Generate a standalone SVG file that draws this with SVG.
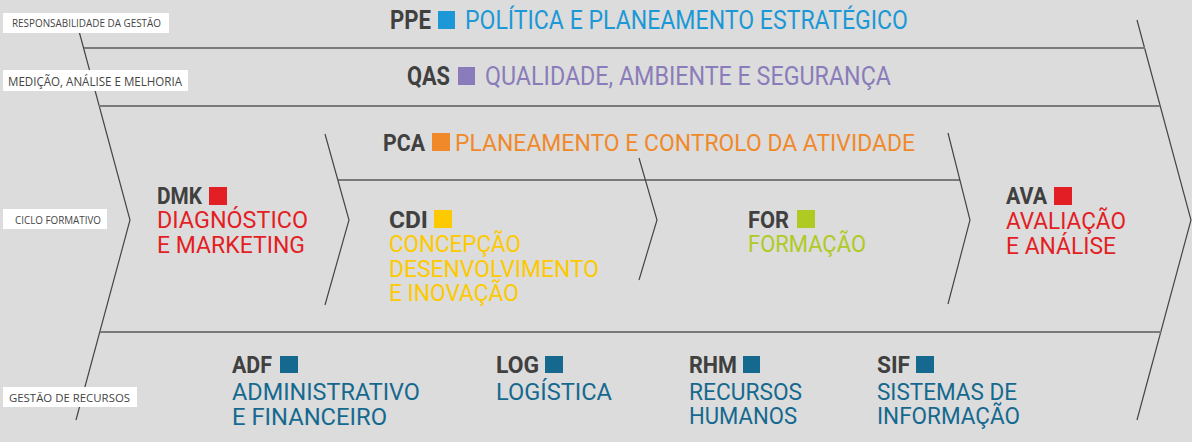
<svg xmlns="http://www.w3.org/2000/svg" width="1192" height="442" viewBox="0 0 1192 442">
<style>
.bg{fill:#dcdcdc}
.hl{stroke:#7a7a7a;stroke-width:2;fill:none}
.cv{stroke:#454545;stroke-width:1.2;fill:none}
.lb{fill:#ffffff}
.lt{font-family:'Open Sans','Liberation Sans',sans-serif;fill:#454545}
.t{font-family:Roboto,'DejaVu Sans',sans-serif}
.ab{font-weight:bold;fill:#404040}
.big{font-size:26px}
.mid{font-size:24.5px}
.sm{font-size:23.5px}
.c-ppe{fill:#1b98d5}
.c-qas{fill:#8a7cba}
.c-pca{fill:#f0892a}
.c-red{fill:#e31e24}
.c-cdi{fill:#fdc900}
.c-for{fill:#afca22}
.c-blue{fill:#15698f}
</style>
<rect class="bg" x="0" y="0" width="1192" height="442"/>
<g id="connectors">
<polyline class="cv" points="76,20 130,220 76,420"/>
<polyline class="cv" points="1137,20 1191,220 1137,420"/>
<line class="hl" x1="84" y1="48" x2="1145" y2="48"/>
<line class="hl" x1="99" y1="106" x2="1160" y2="106"/>
<line class="hl" x1="100" y1="332" x2="1161" y2="332"/>
<line class="hl" x1="338" y1="180" x2="960" y2="180"/>
<polyline class="cv" points="325,134 349,220 325,305"/>
<polyline class="cv" points="639,158 657,220 639,280"/>
<polyline class="cv" points="948,133 970,220 948,304"/>
</g>
<g id="label-responsabilidade">
<rect class="lb" x="3" y="13" width="166" height="20"/>
<text class="lt" x="12" y="27" font-size="10.5" textLength="149" lengthAdjust="spacingAndGlyphs">RESPONSABILIDADE DA GESTÃO</text>
</g>
<g id="label-medicao">
<rect class="lb" x="3" y="70" width="185" height="21"/>
<text class="lt" x="8" y="86" font-size="12" textLength="174" lengthAdjust="spacingAndGlyphs">MEDIÇÃO, ANÁLISE E MELHORIA</text>
</g>
<g id="label-ciclo">
<rect class="lb" x="3" y="209" width="104" height="20"/>
<text class="lt" x="15" y="224" font-size="11" textLength="86" lengthAdjust="spacingAndGlyphs">CICLO FORMATIVO</text>
</g>
<g id="label-gestao">
<rect class="lb" x="3" y="387" width="134" height="20"/>
<text class="lt" x="9" y="402" font-size="11" textLength="121" lengthAdjust="spacingAndGlyphs">GESTÃO DE RECURSOS</text>
</g>
<g id="PPE">
<text class="t ab big" x="390" y="29" textLength="41" lengthAdjust="spacingAndGlyphs">PPE</text>
<rect class="c-ppe" x="438" y="11" width="17" height="18"/>
<text class="t big c-ppe" x="465" y="29" textLength="443" lengthAdjust="spacingAndGlyphs">POLÍTICA E PLANEAMENTO ESTRATÉGICO</text>
</g>
<g id="QAS">
<text class="t ab big" x="407" y="85" textLength="43" lengthAdjust="spacingAndGlyphs">QAS</text>
<rect class="c-qas" x="458" y="67" width="17" height="18"/>
<text class="t big c-qas" x="485" y="85" textLength="406" lengthAdjust="spacingAndGlyphs">QUALIDADE, AMBIENTE E SEGURANÇA</text>
</g>
<g id="PCA">
<text class="t ab mid" x="383" y="151" textLength="42" lengthAdjust="spacingAndGlyphs">PCA</text>
<rect class="c-pca" x="432" y="133" width="18" height="18"/>
<text class="t mid c-pca" x="455" y="151" textLength="460" lengthAdjust="spacingAndGlyphs">PLANEAMENTO E CONTROLO DA ATIVIDADE</text>
</g>
<g id="DMK">
<text class="t ab sm" x="157" y="204" textLength="45" lengthAdjust="spacingAndGlyphs">DMK</text>
<rect class="c-red" x="209" y="187" width="18" height="18"/>
<text class="t mid c-red" x="157" y="228" textLength="151" lengthAdjust="spacingAndGlyphs">DIAGNÓSTICO</text>
<text class="t mid c-red" x="157" y="253" textLength="148" lengthAdjust="spacingAndGlyphs">E MARKETING</text>
</g>
<g id="CDI">
<text class="t ab sm" x="389" y="228" textLength="39" lengthAdjust="spacingAndGlyphs">CDI</text>
<rect class="c-cdi" x="434" y="210" width="18" height="18"/>
<text class="t mid c-cdi" x="389" y="252" textLength="132" lengthAdjust="spacingAndGlyphs">CONCEPÇÃO</text>
<text class="t mid c-cdi" x="389" y="277" textLength="210" lengthAdjust="spacingAndGlyphs">DESENVOLVIMENTO</text>
<text class="t mid c-cdi" x="389" y="301" textLength="130" lengthAdjust="spacingAndGlyphs">E INOVAÇÃO</text>
</g>
<g id="FOR">
<text class="t ab sm" x="748" y="228" textLength="41" lengthAdjust="spacingAndGlyphs">FOR</text>
<rect class="c-for" x="797" y="210" width="18" height="18"/>
<text class="t mid c-for" x="748" y="252" textLength="118" lengthAdjust="spacingAndGlyphs">FORMAÇÃO</text>
</g>
<g id="AVA">
<text class="t ab sm" x="1006" y="204" textLength="41" lengthAdjust="spacingAndGlyphs">AVA</text>
<rect class="c-red" x="1054" y="187" width="18" height="18"/>
<text class="t mid c-red" x="1006" y="229" textLength="120" lengthAdjust="spacingAndGlyphs">AVALIAÇÃO</text>
<text class="t mid c-red" x="1006" y="254" textLength="110" lengthAdjust="spacingAndGlyphs">E ANÁLISE</text>
</g>
<g id="ADF">
<text class="t ab sm" x="232" y="373" textLength="40" lengthAdjust="spacingAndGlyphs">ADF</text>
<rect class="c-blue" x="280" y="356" width="18" height="17"/>
<text class="t mid c-blue" x="232" y="400" textLength="188" lengthAdjust="spacingAndGlyphs">ADMINISTRATIVO</text>
<text class="t mid c-blue" x="232" y="425" textLength="155" lengthAdjust="spacingAndGlyphs">E FINANCEIRO</text>
</g>
<g id="LOG">
<text class="t ab sm" x="496" y="373" textLength="43" lengthAdjust="spacingAndGlyphs">LOG</text>
<rect class="c-blue" x="545" y="356" width="18" height="17"/>
<text class="t mid c-blue" x="496" y="400" textLength="116" lengthAdjust="spacingAndGlyphs">LOGÍSTICA</text>
</g>
<g id="RHM">
<text class="t ab sm" x="689" y="373" textLength="48" lengthAdjust="spacingAndGlyphs">RHM</text>
<rect class="c-blue" x="743" y="356" width="17" height="17"/>
<text class="t mid c-blue" x="689" y="400" textLength="113" lengthAdjust="spacingAndGlyphs">RECURSOS</text>
<text class="t mid c-blue" x="689" y="424" textLength="108" lengthAdjust="spacingAndGlyphs">HUMANOS</text>
</g>
<g id="SIF">
<text class="t ab sm" x="877" y="373" textLength="33" lengthAdjust="spacingAndGlyphs">SIF</text>
<rect class="c-blue" x="916" y="356" width="18" height="17"/>
<text class="t mid c-blue" x="877" y="400" textLength="140" lengthAdjust="spacingAndGlyphs">SISTEMAS DE</text>
<text class="t mid c-blue" x="877" y="424" textLength="143" lengthAdjust="spacingAndGlyphs">INFORMAÇÃO</text>
</g>
</svg>
